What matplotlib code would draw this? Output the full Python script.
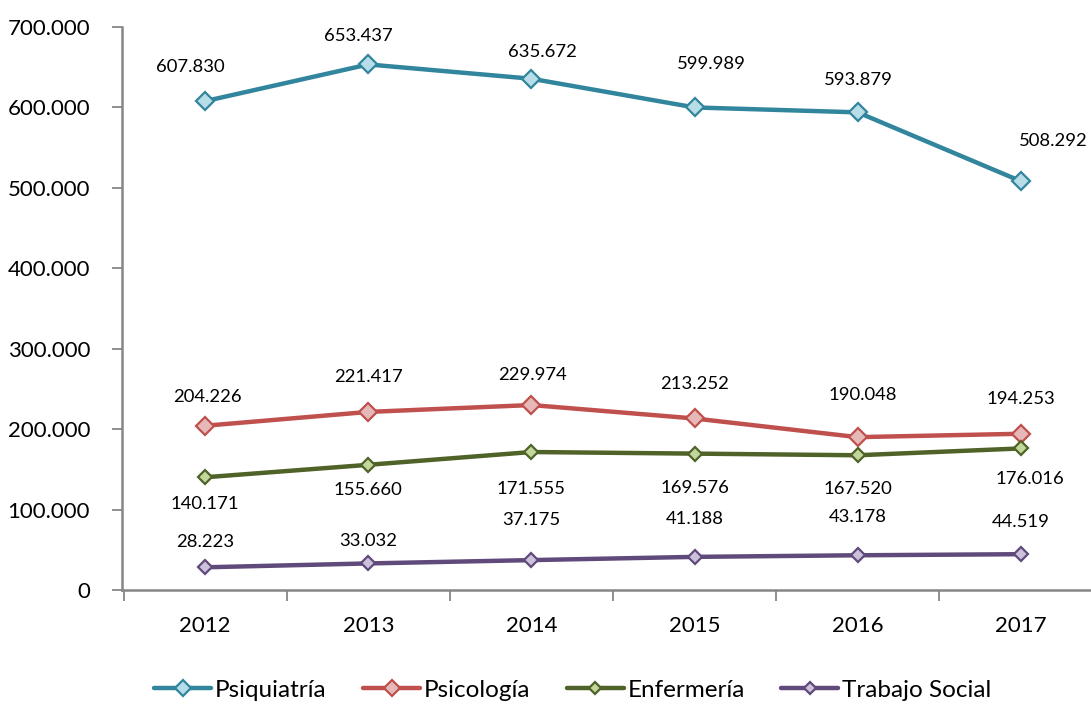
import matplotlib
matplotlib.use("Agg")
import matplotlib.pyplot as plt
import numpy as np

plt.rcParams['font.family'] = ['Lato', 'DejaVu Sans']

years = ["2012", "2013", "2014", "2015", "2016", "2017"]
psiquiatria = [607830, 653437, 635672, 599989, 593879, 508292]
psicologia = [204226, 221417, 229974, 213252, 190048, 194253]
enfermeria = [140171, 155660, 171555, 169576, 167520, 176016]
trabajo_social = [28223, 33032, 37175, 41188, 43178, 44519]
series_names = ["Psiquiatría", "Psicología", "Enfermería", "Trabajo Social"]

# data-label placement (pixel offsets from each point), as laid out in the source chart
label_dx = [
    [-15, -10, 11, 17, 1, 32],
    [2, 0, 1, 0, 5, 0],
    [0, 0, 0, 0, 0, 9],
    [0, 0, 0, 0, 0, 0],
]
label_dy = [
    [34, 28, 27, 43, 32, 40],
    [29, 35, 30, 34, 42, 35],
    [-27, -25, -37, -34, -34, -31],
    [25, 22, 40, 38, 38, 32],
]


def fmt(v):
    return f"{v:,}".replace(",", ".")


fig = plt.figure(figsize=(10.91, 7.04), dpi=100)
ax = fig.add_axes([122/1091, 1-590/704, (1104-122)/1091, (590-27)/704])
x = np.arange(len(years))

styles = [
    (psiquiatria, "#31859C", "#B7DEE8", 9.2),
    (psicologia, "#C0504D", "#E6B9B8", 9.2),
    (enfermeria, "#4F6228", "#C3D69B", 7),
    (trabajo_social, "#604A7B", "#CCC1DA", 7),
]
for k, ((vals, col, fill, ms), name) in enumerate(zip(styles, series_names)):
    ax.plot(x, vals, color=col, lw=3.2, marker='D', ms=ms, mfc=fill, mec=col,
            mew=1.6, label=name, solid_capstyle='round', zorder=3)
    for i, v in enumerate(vals):
        ax.annotate(fmt(v), (x[i], v), textcoords='offset pixels',
                    xytext=(label_dx[k][i], label_dy[k][i]), ha='center',
                    va='center', fontsize=13.3, color='#000000')

ax.set_xlim(-0.51, 5.51)
ax.set_ylim(0, 700000)
ax.set_yticks(np.arange(0, 700001, 100000))
ax.set_yticklabels(["0"] + [fmt(v) for v in range(100000, 700001, 100000)])
ax.set_xticks(x)
ax.set_xticklabels(years)
ax.set_xticks(np.arange(-0.5, 6, 1), minor=True)
ax.tick_params(axis='x', which='major', length=0, pad=19, labelsize=16)
ax.tick_params(axis='x', which='minor', length=8, width=1.3, color='#868686')
ax.tick_params(axis='y', length=7, width=1.3, color='#868686', pad=16, labelsize=16)
for s in ['top', 'right']:
    ax.spines[s].set_visible(False)
for s in ['left', 'bottom']:
    ax.spines[s].set_color('#868686')
    ax.spines[s].set_linewidth(1.8)

handles, labels = ax.get_legend_handles_labels()
leg = fig.legend(handles, labels, loc='center', bbox_to_anchor=(0.525, 1-690/704),
                 ncol=4, frameon=False, fontsize=17.5, handlelength=2.35,
                 columnspacing=1.5, handletextpad=0.15, markerscale=0.85)

fig.savefig("out.png", dpi=100)
